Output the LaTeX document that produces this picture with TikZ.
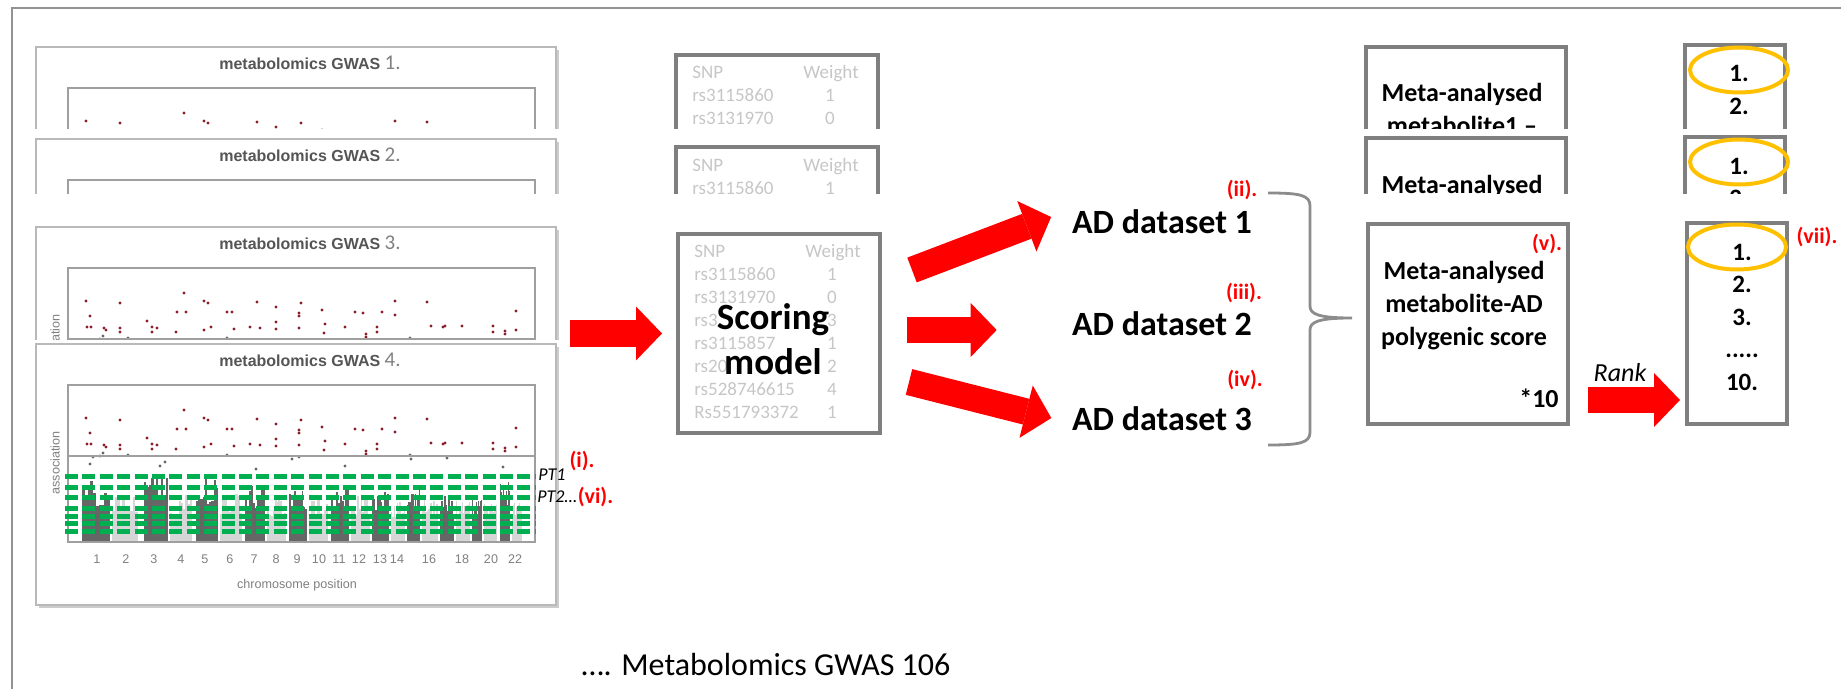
\documentclass[tikz,border=0pt]{standalone}
\usepackage{fontspec}
\setmainfont{Carlito}
\newfontfamily\plotfont{Liberation Sans}
\usetikzlibrary{arrows.meta, positioning, calc, shapes.geometric}

\definecolor{boxgray}{HTML}{7F7F7F}
\definecolor{snpgray}{HTML}{C6C6C6}
\definecolor{markred}{HTML}{FF0000}
\definecolor{cutgreen}{HTML}{00B050}
\definecolor{ringgold}{HTML}{FFC000}
\definecolor{titlegray}{HTML}{555555}
\definecolor{hitred}{HTML}{8B1C2A}
\definecolor{chrdark}{HTML}{666666}
\definecolor{chrlight}{HTML}{D6D6D6}

% one Manhattan plot panel, #1 = top edge, #2 = its number,
% #3 = how much of the axis text shows (0 none, 1 y label, 2 all)
\newcommand{\gwaspanel}[3]{%
	\begin{scope}[shift = {(0, #1)}]
		\fill [gray!40] (39, 3) rectangle (559, 264);
		\filldraw [fill = white, draw = gray!55, line width = 0.9pt] (36, 0) rectangle (556, 261);
		\node [gwastitle, anchor = base] (title#2) at (310, 22.5) {metabolomics GWAS {\normalfont\fontsize{10.5}{12}\selectfont\color{gray} #2.}};
		\pgfmathsetseed{17}
		\foreach \xa/\xb/\shade/\peak in {82/110/chrdark/62, 112/138/chrlight/50, 144/168/chrdark/70, 170/192/chrlight/48,
			196/218/chrdark/67, 220/242/chrlight/50, 245/265/chrdark/57, 267/286/chrlight/46, 289/307/chrdark/52,
			309/328/chrlight/44, 331/349/chrdark/55, 351/370/chrlight/46, 372/389/chrdark/50, 391/405/chrlight/44,
			407/420/chrdark/55, 422/438/chrlight/44, 440/454/chrdark/50, 456/470/chrlight/42, 472/482/chrdark/45,
			484/497/chrlight/42, 500/510/chrdark/60, 512/522/chrlight/40}
		{
			\foreach \k in {0, ..., 9}
			{
				\pgfmathsetmacro{\hh}{\peak * (0.55 + 0.45 * rnd)}
				\fill [\shade] ({\xa + \k * (\xb - \xa) / 10}, 198) rectangle ++({(\xb - \xa) / 10}, {-\hh});
			}
		}
		\foreach \dx/\dy in {86/74, 120/76, 184/66, 204/74, 208/76, 257/75, 276/80, 301/76, 322/83, 395/74, 427/75,
			516/84, 90/89, 177/85, 186/85, 227/85, 232/85, 299/86, 299/89, 355/85, 363/86, 382/85, 395/88, 147/94,
			276/95, 325/97, 87/100, 91/100, 104/101, 106/103, 120/101, 120/105, 152/100, 157/101, 152/105, 176/105,
			204/103, 211/100, 234/102, 250/100, 260/101, 276/102, 299/101, 324/106, 345/100, 366/107, 366/110,
			377/100, 377/105, 431/99, 443/100, 445/99, 462/99, 493/99, 493/105, 505/104, 505/107, 516/103}
			\fill [hitred] (\dx, \dy) circle (0.8pt);
		\foreach \dx/\dy in {93/113, 100/112, 103/109, 128/111, 227/111, 292/115, 299/113, 410/111, 411/115,
			447/114, 503/123, 90/120, 160/122, 165/118, 256/125, 345/122}
			\fill [chrdark] (\dx, \dy) circle (0.8pt);
		\draw [gray!75, line width = 0.7pt] (68, 41) rectangle (535, 198);
		\draw [gray!75, line width = 0.6pt] (68, 112) -- (535, 112);
		\ifnum#3>0
			\node [axistext, rotate = 90] (assoc#2) at (55, 119) {association};
		\fi
		\ifnum#3>1
			\foreach \c/\xc in {1/97, 2/126, 3/154, 4/181, 5/205, 6/230, 7/254, 8/276, 9/297, 10/319, 11/339,
				12/359, 13/380, 14/397, 16/429, 18/462, 20/491, 22/515}
				\node [axistext] (chr#2-\c) at (\xc, 215) {\c};
			\node [axistext] (chrpos#2) at (297, 241) {chromosome position};
		\fi
	\end{scope}}

\begin{document}
\begin{tikzpicture}[> = latex, x = 0.5pt, y = -0.5pt,
	gwastitle/.style = {font = \plotfont\bfseries\fontsize{8}{9}\selectfont, text = titlegray, inner sep = 0},
	axistext/.style = {font = \plotfont\fontsize{6.3}{7}\selectfont, text = gray, inner sep = 0},
	cutline/.style = {draw = cutgreen, line width = 2.5pt, dash pattern = on 6.5pt off 2.2pt},
	ptlabel/.style = {font = \itshape\fontsize{9}{11}\selectfont, inner sep = 0},
	redtag/.style = {font = \bfseries\fontsize{11}{13}\selectfont, text = markred, inner sep = 0},
	grayframe/.style = {draw = boxgray, line width = 2pt},
	snptext/.style = {font = \fontsize{9.5}{11.5}\selectfont, text = snpgray, inner sep = 0},
	bigarrow/.style = {draw = markred, line width = 13.25pt, -{Triangle[length = 13pt, width = 27pt, line width = 0pt]}},
	datatext/.style = {font = \bfseries\fontsize{17}{20}\selectfont, inner sep = 0},
	metatext/.style = {font = \bfseries\fontsize{13}{16.5}\selectfont, align = center, inner sep = 0},
	ranktext/.style = {font = \bfseries\fontsize{12.5}{16.25}\selectfont, align = center, inner sep = 0},
	rankring/.style = {draw = ringgold, line width = 2pt, ellipse, minimum width = 49pt, minimum height = 22.5pt, inner sep = 0}]
	
	\useasboundingbox (0, 0) rectangle (1841, 689);
	
	% Slide frame
	
	\draw [gray!85, line width = 1pt] (12, 689) -- (12, 8) -- (1841, 8);
	
	% First row, cut short
	
	\begin{scope}
		\clip (0, 0) rectangle (1841, 129);
		\gwaspanel{47}{1}{0}
		\node [grayframe, minimum width = 101pt, minimum height = 100pt] (snpboxA) at (777, 155) {};
		\node [snptext, anchor = base west] (snpA0) at (692, 79) {SNP};
		\node [snptext, anchor = base east] (wtA0) at (859, 79) {Weight};
		\foreach \snp/\wt [count = \i] in {rs3115860/1, rs3131970/0}
		{
			\node [snptext, anchor = base west] (snpA\i) at (692, {79 + 23 * \i}) {\snp};
			\node [snptext, anchor = base] (wtA\i) at (830, {79 + 23 * \i}) {\wt};
		}
		\node [grayframe, minimum width = 100pt, minimum height = 100pt] (metaboxA) at (1466, 147) {};
		\node [metatext] (metaA) at (1462, 109) {Meta-analysed\\metabolite1 --};
		\node [grayframe, minimum width = 50pt, minimum height = 100pt] (rankboxA) at (1735, 145) {};
		\node [ranktext] (rankA) at (1739, 90) {1.\\2.};
		\node [rankring] (ringA) at (1739, 70) {};
	\end{scope}
	
	% Second row, cut short
	
	\begin{scope}
		\clip (0, 134) rectangle (1841, 194);
		\gwaspanel{139}{2}{0}
		\node [grayframe, minimum width = 101pt, minimum height = 100pt] (snpboxB) at (777, 247) {};
		\node [snptext, anchor = base west] (snpB0) at (692, 172) {SNP};
		\node [snptext, anchor = base east] (wtB0) at (859, 172) {Weight};
		\node [snptext, anchor = base west] (snpB1) at (692, 195) {rs3115860};
		\node [snptext, anchor = base] (wtB1) at (830, 195) {1};
		\node [grayframe, minimum width = 100pt, minimum height = 100pt] (metaboxB) at (1466, 238) {};
		\node [metatext, anchor = base] (metaB) at (1462, 193.5) {Meta-analysed};
		\node [grayframe, minimum width = 50pt, minimum height = 100pt] (rankboxB) at (1735, 237) {};
		\node [ranktext] (rankB) at (1739, 182.5) {1.\\2.};
		\node [rankring] (ringB) at (1739, 162) {};
	\end{scope}
	
	% Third and fourth GWAS panels
	
	\begin{scope}
		\clip (0, 215) rectangle (1841, 340);
		\gwaspanel{227}{3}{1}
	\end{scope}
	\gwaspanel{344}{4}{2}
	
	% P-value thresholds on the last panel
	
	\foreach \gy in {476, 487, 497, 508, 516, 523, 531}
		\draw [cutline] (65, \gy) -- (535, \gy);
	\node [ptlabel] (pt1) at (552, 475) {PT1};
	\node [ptlabel, anchor = west] (pt2) at (537, 497) {PT2…};
	\node [redtag] (tagi) at (582, 461) {(i).};
	\node [redtag, right = 0pt of pt2] (tagvi) {(vi).};
	
	% Scoring model
	
	\node [grayframe, minimum width = 101pt, minimum height = 99.5pt] (scoring) at (779, 333.5) {};
	\node [snptext, anchor = base west] (snpC0) at (694, 258) {SNP};
	\node [snptext, anchor = base east] (wtC0) at (861, 258) {Weight};
	\foreach \snp/\wt [count = \i] in {rs3115860/1, rs3131970/0, rs3/3, rs3115857/1, rs20/2, rs528746615/4, Rs551793372/1}
	{
		\node [snptext, anchor = base west] (snpC\i) at (694, {258 + 23 * \i}) {\snp};
		\node [snptext, anchor = base] (wtC\i) at (832, {258 + 23 * \i}) {\wt};
	}
	\node [font = \bfseries\fontsize{18.5}{22.5}\selectfont, align = center, inner sep = 0] (scoretxt) at (773, 339) {Scoring\\model};
	
	% AD datasets
	
	\node [datatext, anchor = base] (ad1) at (1162, 234) {AD dataset 1};
	\node [datatext, anchor = base] (ad2) at (1162, 336) {AD dataset 2};
	\node [datatext, anchor = base] (ad3) at (1162, 430) {AD dataset 3};
	\node [redtag] (tagii) at (1242, 190) {(ii).};
	\node [redtag] (tagiii) at (1244, 293) {(iii).};
	\node [redtag] (tagiv) at (1245, 380) {(iv).};
	
	% Red arrows
	
	\coordinate (gwasout) at (570, 333.5);
	\coordinate (out1) at (912, 270);
	\coordinate (out2) at (907, 330);
	\coordinate (out3) at (909, 382);
	\draw [bigarrow, shorten >= 7pt] (gwasout) -- (scoring.west);
	\draw [bigarrow, shorten >= 11pt] (out1) -- ($(ad1.west) + (0, -13)$);
	\draw [bigarrow, shorten >= 37.5pt] (out2) -- (out2 -| ad2.west);
	\draw [bigarrow, shorten >= 10.5pt] (out3) -- ($(ad3.west) + (0, 5)$);
	
	% Brace over the three datasets
	
	\draw [gray!90, line width = 1.4pt] (1268, 193) .. controls (1300, 193) and (1310, 195) .. (1310, 206)
		-- (1310, 306) .. controls (1310, 314) and (1318, 318) .. (1352, 318)
		.. controls (1318, 318) and (1310, 322) .. (1310, 330)
		-- (1310, 432) .. controls (1310, 443) and (1300, 445) .. (1268, 445);
	
	% Meta-analysed score
	
	\node [grayframe, minimum width = 100pt, minimum height = 100pt] (metabox) at (1468, 324) {};
	\node [metatext] (metatxt) at (1464, 306) {Meta-analysed\\metabolite-AD\\polygenic score};
	\node [font = \bfseries\fontsize{13}{15}\selectfont, inner sep = 0, anchor = base east] (times) at (1559, 408) {*10};
	\node [redtag] (tagv) at (1547, 244) {(v).};
	
	% Ranking
	
	\node [grayframe, minimum width = 50pt, minimum height = 100.5pt] (rank) at (1737, 323.5) {};
	\node [ranktext] (ranklist) at (1742, 317) {1.\\2.\\3.\\.....\\10.};
	\node [rankring] (ringC) at (1737, 247) {};
	\node [redtag] (tagvii) at (1817, 237) {(vii).};
	\coordinate (rankout) at (1588, 400);
	\draw [bigarrow, shorten >= 2.5pt] (rankout) -- (rankout -| rank.west);
	\node [font = \itshape\fontsize{13}{15}\selectfont, inner sep = 0] (ranktxt) at (1620, 373) {Rank};
	
	% Remaining studies
	
	\node [font = \fontsize{16}{19}\selectfont, inner sep = 0] (more) at (766, 665) {…. Metabolomics GWAS 106};

\end{tikzpicture}
\end{document}
